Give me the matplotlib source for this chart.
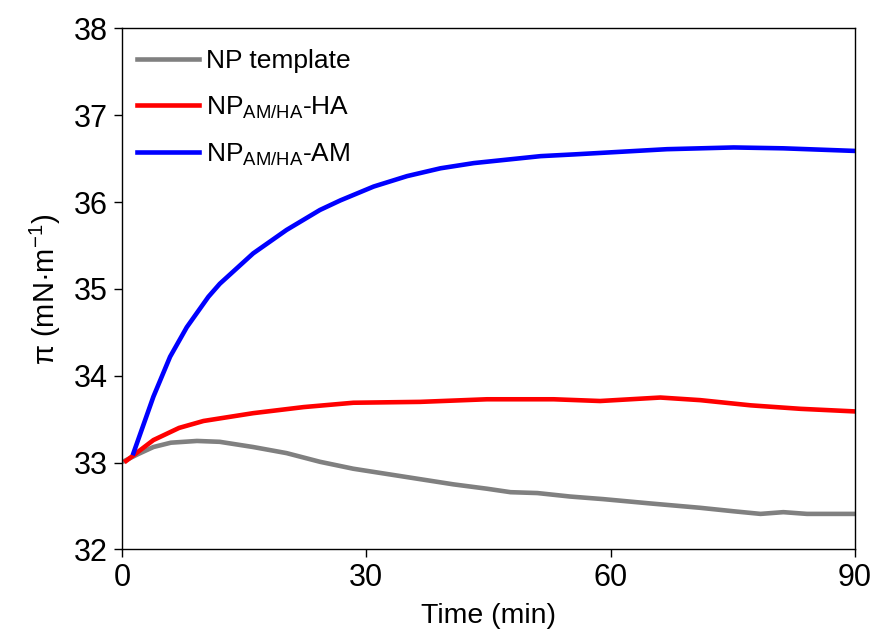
import matplotlib
matplotlib.use('Agg')
import matplotlib.pyplot as plt

plt.rcParams['font.family'] = ['Liberation Sans', 'DejaVu Sans']
plt.rcParams['mathtext.default'] = 'regular'

# NP template
t_tpl = [0.3, 2, 3.85, 6, 9.2, 12, 16.1, 20.2, 24.3, 28.4, 32.5, 36.6, 40.7, 44.8,
         47.7, 51, 55, 59.1, 64.9, 71, 75.1, 78.4, 81.2, 84.1, 90]
v_tpl = [33.02, 33.1, 33.18, 33.23, 33.25, 33.24, 33.18, 33.11, 33.01, 32.93, 32.87,
         32.81, 32.75, 32.70, 32.66, 32.65, 32.61, 32.58, 32.53, 32.48, 32.44, 32.41,
         32.43, 32.41, 32.41]

# NP(AM/HA)-HA
t_ha = [0.5, 3.85, 7, 10, 16.1, 22.3, 28.4, 36.6, 44.8, 53, 58.7, 66.1, 71, 77.2, 83.3, 90]
v_ha = [33.02, 33.26, 33.40, 33.48, 33.57, 33.64, 33.69, 33.70, 33.73, 33.73, 33.71,
        33.75, 33.72, 33.66, 33.62, 33.59]

# NP(AM/HA)-AM
t_am = [1.4, 3.85, 5.9, 7.95, 10.6, 12.0, 16.1, 20.2, 24.3, 26.8, 30.9, 35.0, 39.1,
        43.2, 47.3, 51.4, 55.5, 61.2, 66.9, 75.1, 81.2, 90]
v_am = [33.11, 33.76, 34.22, 34.56, 34.91, 35.06, 35.41, 35.68, 35.91, 36.02, 36.18,
        36.30, 36.39, 36.45, 36.49, 36.53, 36.55, 36.58, 36.61, 36.63, 36.62, 36.59]

fig = plt.figure(figsize=(8.73, 6.29), dpi=100)
ax = fig.add_axes([0.1398, 0.1264, 0.8396, 0.8283])

ax.plot(t_tpl, v_tpl, color='#808080', lw=3.3, label='NP template')
ax.plot(t_ha, v_ha, color='#ff0000', lw=3.3, label='NP$_{AM/HA}$-HA')
ax.plot(t_am, v_am, color='#0000ff', lw=3.3, label='NP$_{AM/HA}$-AM')

ax.set_xlim(0, 90)
ax.set_ylim(32, 38)
ax.set_xticks([0, 30, 60, 90])
ax.set_yticks([32, 33, 34, 35, 36, 37, 38])
ax.tick_params(direction='out', length=6, width=1, labelsize=22, pad=4)
for s in ax.spines.values():
    s.set_linewidth(1)

ax.set_xlabel('Time (min)', fontsize=20.5, labelpad=7)
ax.set_ylabel('π (mN·m$^{\\mathregular{-1}}$)', fontsize=21, labelpad=8)

ax.legend(loc='upper left', bbox_to_anchor=(0, 0.988), frameon=False, fontsize=19,
          handlelength=2.35, handletextpad=0.3, labelspacing=0.8, borderaxespad=0.15)

fig.savefig('out.png', dpi=100)
